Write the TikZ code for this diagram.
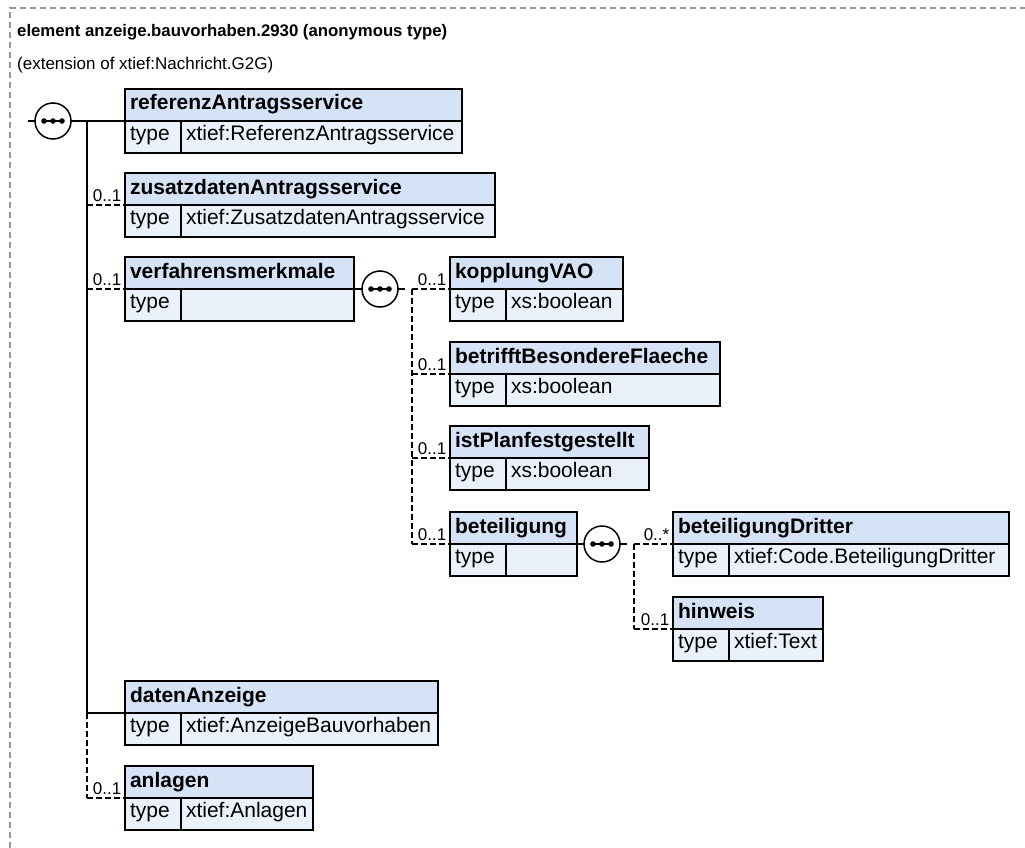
\documentclass[tikz,border=0pt]{standalone}
\usepackage{fontspec}
\setmainfont{Liberation Sans}
\usepackage{xcolor}
\usepackage{tikz}
\usetikzlibrary{positioning}
\definecolor{hdblue}{RGB}{214,227,247}
\definecolor{bdblue}{RGB}{234,241,251}
\definecolor{framegray}{RGB}{150,150,150}
\hyphenpenalty=10000
\begin{document}
\begin{tikzpicture}[x=1pt, y=-1pt,
      hd/.style={draw, fill=hdblue, anchor=north west, line width=1.5pt, outer sep=0pt,
                 inner xsep=5pt, inner ysep=0pt, text width=#1pt, align=left,
                 minimum height=32pt, text height=15pt, text depth=5pt,
                 font=\bfseries\fontsize{21pt}{24pt}\selectfont},
      tl/.style={draw, fill=bdblue, anchor=north west, line width=1.5pt, outer sep=0pt,
                 inner xsep=5pt, inner ysep=0pt, text width=46pt, align=left,
                 minimum height=32pt, text height=14pt, text depth=8pt,
                 font=\fontsize{21pt}{24pt}\selectfont},
      tv/.style={tl, text width=#1pt},
      seq/.style={circle, draw, fill=white, line width=1.5pt, minimum size=36pt,
                  inner sep=0pt, outer sep=0pt,
                  path picture={\draw[black, line width=1.3pt]
                     ([xshift=-11pt]path picture bounding box.center) --
                     ([xshift=11pt]path picture bounding box.center);
                   \foreach \dx in {-9,0,9}
                     \fill[black] ([xshift=\dx pt]path picture bounding box.center) circle (2.8pt);}},
      ln/.style={line width=1.4pt},
      opt/.style={ln, dash pattern=on 6pt off 3pt},
      mult/.style={anchor=base east, inner sep=0pt, xshift=-3pt, yshift=4pt,
                   font=\fontsize{17pt}{20pt}\selectfont}]
    \useasboundingbox (0,0) rectangle (1025,848);
    \draw[framegray, line width=1.2pt, dash pattern=on 6pt off 4pt] (10,848) -- (10,8) -- (1025,8);

    \node[anchor=base west, inner sep=0pt, font=\bfseries\fontsize{16.75pt}{20pt}\selectfont] (title)
          at (17,37) {element anzeige.bauvorhaben.2930 (anonymous type)};
    \node[anchor=base west, inner sep=0pt, font=\fontsize{17pt}{20pt}\selectfont] (sub)
          at (17,70) {(extension of xtief:Nachricht.G2G)};

    \node[hd=327] (ref) at (125,89) {referenzAntragsservice};
    \node[tl] (refl) at (ref.south west) {type};
    \node[tv=271] (refv) at (refl.north east) {xtief:ReferenzAntragsservice};

    \node[hd=360] (zus) at (125,173) {zusatzdatenAntragsservice};
    \node[tl] (zusl) at (zus.south west) {type};
    \node[tv=304] (zusv) at (zusl.north east) {xtief:ZusatzdatenAntragsservice};

    \node[hd=219] (verf) at (125,257) {verfahrensmerkmale};
    \node[tl] (verfl) at (verf.south west) {type};
    \node[tv=163] (verfv) at (verfl.north east) {};

    \node[hd=163] (kopp) at (450,257) {kopplungVAO};
    \node[tl] (koppl) at (kopp.south west) {type};
    \node[tv=107] (koppv) at (koppl.north east) {xs:boolean};

    \node[hd=260] (betr) at (450,342) {betrifftBesondereFlaeche};
    \node[tl] (betrl) at (betr.south west) {type};
    \node[tv=204] (betrv) at (betrl.north east) {xs:boolean};

    \node[hd=189] (ist) at (450,426) {istPlanfestgestellt};
    \node[tl] (istl) at (ist.south west) {type};
    \node[tv=133] (istv) at (istl.north east) {xs:boolean};

    \node[hd=117] (bet) at (450,512) {beteiligung};
    \node[tl] (betl) at (bet.south west) {type};
    \node[tv=61] (betv) at (betl.north east) {};

    \node[hd=326] (betd) at (673,512) {beteiligungDritter};
    \node[tl] (betdl) at (betd.south west) {type};
    \node[tv=270] (betdv) at (betdl.north east) {xtief:Code.BeteiligungDritter};

    \node[hd=140] (hinw) at (673,597) {hinweis};
    \node[tl] (hinwl) at (hinw.south west) {type};
    \node[tv=84] (hinwv) at (hinwl.north east) {xtief:Text};

    \node[hd=303] (dat) at (125,681) {datenAnzeige};
    \node[tl] (datl) at (dat.south west) {type};
    \node[tv=247] (datv) at (datl.north east) {xtief:AnzeigeBauvorhaben};

    \node[hd=178] (anl) at (125,766) {anlagen};
    \node[tl] (anll) at (anl.south west) {type};
    \node[tv=122] (anlv) at (anll.north east) {xtief:Anlagen};

    \node[seq] (seq0) at (53,121) {};
    \node[seq] (seq1) at (380,289) {};
    \node[seq] (seq2) at (602,544) {};

    \coordinate (in0) at (28,121);
    \coordinate (tr0) at (87,121);
    \draw[ln] (in0) -- (seq0);
    \draw[ln] (seq0) -- (ref.south west);
    \draw[ln] (tr0) -- (tr0 |- dat.south west);
    \draw[opt] (tr0 |- dat.south west) -- (tr0 |- anl.south west);
    \draw[opt] (tr0 |- zus.south west) -- (zus.south west) node[mult] {0..1};
    \draw[opt] (tr0 |- verf.south west) -- (verf.south west) node[mult] {0..1};
    \draw[ln] (tr0 |- dat.south west) -- (dat.south west);
    \draw[opt] (tr0 |- anl.south west) -- (anl.south west) node[mult] {0..1};

    \coordinate (tr1a) at (405,289);
    \coordinate (tr1) at (412,289);
    \draw[ln] (verf.south east) -- (seq1);
    \draw[ln] (seq1) -- (tr1a);
    \draw[opt] (tr1) -- (tr1 |- bet.south west);
    \draw[opt] (tr1) -- (kopp.south west) node[mult] {0..1};
    \draw[opt] (tr1 |- betr.south west) -- (betr.south west) node[mult] {0..1};
    \draw[opt] (tr1 |- ist.south west) -- (ist.south west) node[mult] {0..1};
    \draw[opt] (tr1 |- bet.south west) -- (bet.south west) node[mult] {0..1};

    \coordinate (tr2a) at (627,544);
    \coordinate (tr2) at (634,544);
    \draw[ln] (bet.south east) -- (seq2);
    \draw[ln] (seq2) -- (tr2a);
    \draw[opt] (tr2) -- (tr2 |- hinw.south west);
    \draw[opt] (tr2) -- (betd.south west) node[mult] {0..*};
    \draw[opt] (tr2 |- hinw.south west) -- (hinw.south west) node[mult] {0..1};
  \end{tikzpicture}
\end{document}
